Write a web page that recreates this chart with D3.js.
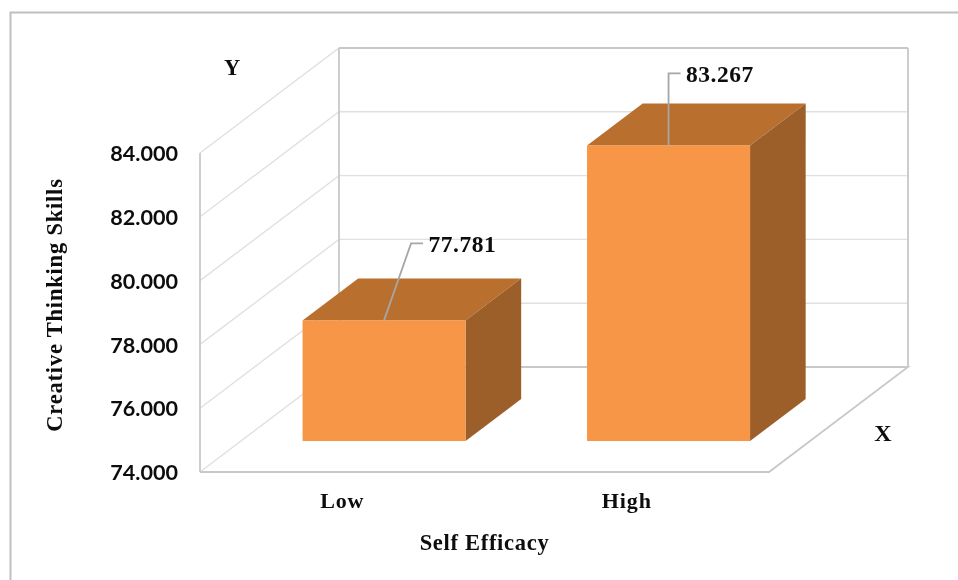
<!DOCTYPE html>
<html>
<head>
<meta charset="utf-8">
<script src="https://cdn.jsdelivr.net/npm/d3@7/dist/d3.min.js"></script>
<style>
html,body{margin:0;padding:0;background:#fff;overflow:hidden}
svg{display:block;filter:blur(0.45px)}
.serif{font-family:"Liberation Serif",serif;font-weight:700;fill:#0d0d0d}
</style>
</head>
<body>
<div id="chart"></div>
<script>
const categories = ["Low", "High"];
const values = [77.781, 83.267];
const yTicks = [74, 76, 78, 80, 82, 84];
const yTitle = "Creative Thinking Skills";
const xTitle = "Self Efficacy";

const W = 958, H = 580;
const svg = d3.select("#chart").append("svg").attr("width", W).attr("height", H);

// Plot frame of the pseudo 3D box
const plotL = 200, plotR = 769, plotB = 472, plotT = 153;
const depthX = 139, depthY = -105;
const barFrac = 0.573, zFront = 0.295, zBack = 0.695, barNudge = 0.8;

const x = d3.scaleBand().domain(categories).range([plotL, plotR]).padding(0);
const y = d3.scaleLinear().domain([74, 84]).range([plotB, plotT]);
const z = d3.scaleLinear().domain([0, 1]);
const px = (sx, d) => sx + z(d) * depthX;
const py = (sy, d) => sy + z(d) * depthY;
const poly = pts => pts.map(p => p.join(",")).join(" ");

// Outer chart frame
svg.append("path").attr("d", `M10.5,${H} V12.5 H${W}`).attr("fill", "none")
  .attr("stroke", "#bfbfbf").attr("stroke-width", 2);

// Gridlines on side and back walls
const grid = svg.append("g").attr("fill", "none");
yTicks.forEach(t => {
  const yy = y(t);
  grid.append("polyline")
    .attr("points", poly([[plotL, yy], [px(plotL, 1), py(yy, 1)], [px(plotR, 1), py(yy, 1)]]))
    .attr("stroke", "#e0e0e0").attr("stroke-width", 1.4);
});

// Walls & floor outline
const frameC = "#c8c8c8";
const wall = svg.append("g").attr("fill", "none").attr("stroke", frameC).attr("stroke-width", 1.8);
wall.append("line").attr("x1", plotL).attr("x2", plotL).attr("y1", y(84)).attr("y2", y(74));
wall.append("line").attr("x1", px(plotL, 1)).attr("x2", px(plotL, 1)).attr("y1", py(y(84), 1)).attr("y2", py(y(74), 1));
wall.append("line").attr("x1", px(plotR, 1)).attr("x2", px(plotR, 1)).attr("y1", py(y(84), 1)).attr("y2", py(y(74), 1));
wall.append("line").attr("x1", px(plotL, 1)).attr("x2", px(plotR, 1)).attr("y1", py(y(84), 1)).attr("y2", py(y(84), 1));
wall.append("polyline").attr("points", poly([
  [px(plotL, 1), py(y(74), 1)], [px(plotR, 1), py(y(74), 1)], [plotR, y(74)], [plotL, y(74)]]));

// Bars
const bars = svg.append("g").selectAll("g").data(categories.map((c, i) => ({c, v: values[i]}))).join("g");
const bw = x.bandwidth() * barFrac;
const bx0 = d => x(d.c) + (x.bandwidth() - bw) / 2 + barNudge;
const bx1 = d => bx0(d) + bw;

bars.append("polygon").attr("fill", "#b9702f").attr("points", d => poly([
  [px(bx0(d), zFront), py(y(d.v), zFront)], [px(bx1(d), zFront), py(y(d.v), zFront)],
  [px(bx1(d), zBack), py(y(d.v), zBack)], [px(bx0(d), zBack), py(y(d.v), zBack)]]));
bars.append("polygon").attr("fill", "#9c5f2a").attr("points", d => poly([
  [px(bx1(d), zFront), py(y(d.v), zFront)], [px(bx1(d), zBack), py(y(d.v), zBack)],
  [px(bx1(d), zBack), py(y(74), zBack)], [px(bx1(d), zFront), py(y(74), zFront)]]));
bars.append("rect").attr("fill", "#f79646")
  .attr("x", d => px(bx0(d), zFront)).attr("width", bw)
  .attr("y", d => py(y(d.v), zFront)).attr("height", d => y(74) - y(d.v));

// Leader lines and data labels
const leaders = [{dx: 27, dy: -77, ex: 12}, {dx: 0, dy: -72, ex: 12}];
const labelGap = 6;
const anchor = (d) => [px(x(d.c) + x.bandwidth() / 2, zFront) + barNudge, py(y(d.v), zFront)];
bars.append("polyline").attr("fill", "none").attr("stroke", "#a6a6a6").attr("stroke-width", 1.8)
  .attr("points", (d, i) => {
    const [ax, ay] = anchor(d), l = leaders[i];
    return poly([[ax, ay], [ax + l.dx, ay + l.dy], [ax + l.dx + l.ex, ay + l.dy]]);
  });
bars.append("text").attr("class", "serif").attr("font-size", 23.5).attr("letter-spacing", 0.5)
  .attr("x", (d, i) => anchor(d)[0] + leaders[i].dx + leaders[i].ex + labelGap - 0.5)
  .attr("y", (d, i) => anchor(d)[1] + leaders[i].dy + 8.5)
  .text(d => d.v.toFixed(3));

// Axes text via d3 axes
const yAxis = svg.append("g").attr("transform", `translate(${plotL},0.8)`)
  .call(d3.axisLeft(y).tickValues(yTicks).tickSize(0).tickPadding(22).tickFormat(d3.format(".3f")));
yAxis.select(".domain").remove();
yAxis.selectAll("text").attr("font-family", "Lato, sans-serif").attr("font-weight", 700)
  .attr("font-size", 21.6).attr("fill", "#0d0d0d").attr("dy", "0.32em");

const xAxis = svg.append("g").attr("transform", `translate(0,${plotB})`)
  .call(d3.axisBottom(x).tickSize(0).tickPadding(20));
xAxis.select(".domain").remove();
xAxis.selectAll("text").attr("class", "serif").attr("font-size", 22).attr("letter-spacing", 0.9);

// Titles
svg.append("text").attr("class", "serif").attr("font-size", 22.5).attr("letter-spacing", 0.7)
  .attr("x", 484.5).attr("y", 550).attr("text-anchor", "middle").text(xTitle);
svg.append("text").attr("class", "serif").attr("font-size", 22.5).attr("letter-spacing", 0.8)
  .attr("text-anchor", "middle").attr("transform", "translate(61.5,305) rotate(-90)").text(yTitle);
svg.append("text").attr("class", "serif").attr("font-size", 22.5).attr("x", 232).attr("y", 75)
  .attr("text-anchor", "middle").text("Y");
svg.append("text").attr("class", "serif").attr("font-size", 24).attr("x", 883).attr("y", 440.5)
  .attr("text-anchor", "middle").text("X");
</script>
</body>
</html>
